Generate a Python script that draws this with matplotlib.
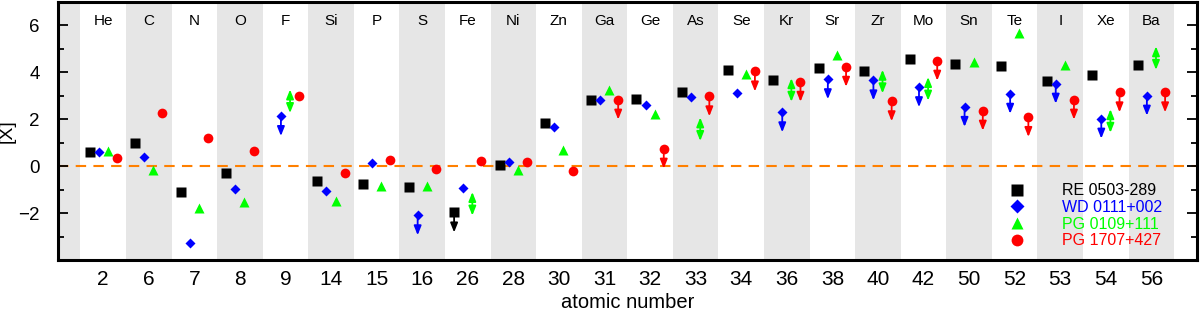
import matplotlib
matplotlib.use("Agg")
import matplotlib.pyplot as plt
from matplotlib.lines import Line2D
import numpy as np

plt.rcParams['font.family'] = ['Liberation Sans', 'DejaVu Sans']

elements = ['He', 'C', 'N', 'O', 'F', 'Si', 'P', 'S', 'Fe', 'Ni', 'Zn', 'Ga', 'Ge',
            'As', 'Se', 'Kr', 'Sr', 'Zr', 'Mo', 'Sn', 'Te', 'I', 'Xe', 'Ba']
atomic_numbers = [2, 6, 7, 8, 9, 14, 15, 16, 26, 28, 30, 31, 32, 33, 34, 36, 38, 40,
                  42, 50, 52, 53, 54, 56]

# '' = measurement, 'u' = upper limit (arrow down), 'r' = range (double arrow, value = top)
re0503_vals = [0.59, 0.97, -1.10, -0.28, np.nan, -0.61, -0.74, -0.88, -1.97, 0.04, 1.83,
               2.81, 2.85, 3.16, 4.11, 3.67, 4.18, 4.08, 4.56, 4.36, 4.26, 3.64, 3.90, 4.32]
re0503_flags = ['', '', '', '', '', '', '', '', 'u', '', '', '', '', '', '', '', '', '',
                '', '', '', '', '', '']

wd0111_vals = [0.60, 0.41, -3.29, -0.98, 2.14, -1.07, 0.13, -2.09, -0.92, 0.18, 1.66,
               2.81, 2.61, 2.94, 3.11, 2.30, 3.71, 3.66, 3.37, 2.53, 3.09, 3.52, 2.03, 3.01]
wd0111_flags = ['', '', '', '', 'u', '', '', 'u', '', '', '', '', '', '', '', 'u', 'u',
                'u', 'u', 'u', 'u', 'u', 'u', 'u']

pg0109_vals = [0.64, -0.16, -1.80, -1.53, 3.27, -1.50, -0.85, -0.85, -1.10, -0.16, 0.70,
               3.23, 2.22, 2.08, 3.92, 3.75, 4.75, 4.11, 3.80, 4.45, 5.68, 4.32, 2.43, 5.11]
pg0109_flags = ['', '', '', '', 'r', '', '', '', 'r', '', '', '', '', 'r', '', 'r', '',
                'r', 'r', '', '', '', 'r', 'r']

pg1707_vals = [0.34, 2.26, 1.19, 0.67, 2.98, -0.30, 0.27, -0.13, 0.22, 0.17, -0.20,
               2.84, 0.75, 2.98, 4.04, 3.60, 4.24, 2.77, 4.50, 2.37, 2.10, 2.84, 3.15, 3.15]
pg1707_flags = ['', '', '', '', '', '', '', '', '', '', '', 'u', 'u', 'u', 'u', 'u', 'u',
                'u', 'u', 'u', 'u', 'u', 'u', 'u']

series = [
    ('RE 0503-289', re0503_vals, re0503_flags, 'black', 's', 6.5, -0.3),
    ('WD 0111+002', wd0111_vals, wd0111_flags, '#0000ff', 'D', 5.5, -0.1),
    ('PG 0109+111', pg0109_vals, pg0109_flags, '#00ff00', '^', 7.0, 0.1),
    ('PG 1707+427', pg1707_vals, pg1707_flags, '#ff0000', 'o', 7.0, 0.3),
]

limit_len = 0.85
range_len = 1.0
head = 'head_length=0.55,head_width=0.22'

fig = plt.figure(figsize=(12, 3.1), dpi=100)
ax = fig.add_axes([0.048, 0.161, 0.9495, 0.8325])

n = len(elements)
ax.set_xlim(-1, n)
ax.set_ylim(-4, 7)

# shaded bands
for i in range(-1, n, 2):
    ax.axvspan(i - 0.5, i + 0.5, color='#e6e6e6', lw=0, zorder=0)

ax.axhline(0, color='#ff8000', lw=1.5, ls=(0, (5, 3.5)), zorder=1)

x = np.arange(n)
for label, vals, flags, col, mk, ms, off in series:
    for i, (v, f) in enumerate(zip(vals, flags)):
        if np.isnan(v):
            continue
        xi = x[i] + off
        if f == 'u':
            ax.annotate('', xy=(xi, v - limit_len), xytext=(xi, v),
                        arrowprops=dict(arrowstyle='-|>,' + head,
                                        color=col, lw=1.3, shrinkA=0, shrinkB=0,
                                        mutation_scale=10), zorder=3)
            ax.plot(xi, v, marker=mk, color=col, ms=ms, mec='none', zorder=4)
        elif f == 'r':
            ax.annotate('', xy=(xi, v - range_len), xytext=(xi, v),
                        arrowprops=dict(arrowstyle='<|-|>,' + head,
                                        color=col, lw=1.3, shrinkA=0, shrinkB=0,
                                        mutation_scale=10), zorder=3)
        else:
            ax.plot(xi, v, marker=mk, color=col, ms=ms, mec='none', zorder=4)

for i, el in enumerate(elements):
    ax.text(i, 6.2, el, ha='center', va='center', fontsize=11)

ax.set_xticks(x)
ax.set_xticklabels([str(z) for z in atomic_numbers], fontsize=15)
ax.tick_params(axis='x', length=0, pad=7)
ax.set_yticks([-2, 0, 2, 4, 6])
ax.set_yticks([-3, -1, 1, 3, 5], minor=True)
ax.tick_params(axis='y', which='both', direction='in', right=True, labelsize=13.5, width=1.3, pad=13)
ax.tick_params(axis='y', which='major', length=7)
ax.tick_params(axis='y', which='minor', length=4)
for s in ax.spines.values():
    s.set_linewidth(2.2)

ax.set_xlabel('atomic number', fontsize=14.5, labelpad=3)
ax.set_ylabel('[X]', fontsize=14)
ax.yaxis.set_label_coords(-0.037, 0.5)

handles = [Line2D([], [], ls='none', marker=mk, color=col, ms=ms + 1.5, mec='none')
           for (_, _, _, col, mk, ms, _) in series]
labels = [s[0] for s in series]
leg = ax.legend(handles, labels, loc='lower left', bbox_to_anchor=(0.8245, 0.0),
                frameon=False, fontsize=11.5, handlelength=1.0, handletextpad=2.3,
                labelspacing=0.1, borderaxespad=0.35)
for t, s in zip(leg.get_texts(), series):
    t.set_color(s[3])

fig.savefig('out.png', dpi=100)
